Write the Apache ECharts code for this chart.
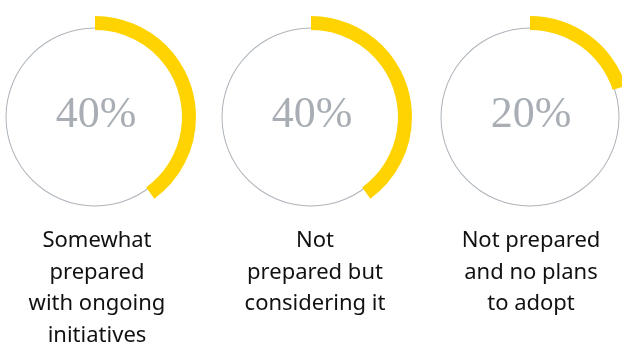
<!DOCTYPE html>
<html><head><meta charset="utf-8">
<script src="https://cdn.jsdelivr.net/npm/echarts@6/dist/echarts.min.js"></script>
<style>html,body{margin:0;padding:0;background:#fff}#c{width:622px;height:345px}</style>
</head><body><div id="c"></div>
<script>
var categories = ["Somewhat\nprepared\nwith ongoing\ninitiatives", "Not\nprepared but\nconsidering it", "Not prepared\nand no plans\nto adopt"];
var values = [40, 40, 20];
var valueLabels = ["40%", "40%", "20%"];

var centersX = [95, 311, 530];
var centerY = 117;
var labelX = [97, 315, 531];

var chart = echarts.init(document.getElementById('c'), null, {renderer: 'canvas'});
var series = [];
var graphics = [];
values.forEach(function (v, i) {
  series.push({
    type: 'pie', silent: true, z: 1,
    center: [centersX[i], centerY], radius: [88.5, 89.5],
    label: {show: false}, labelLine: {show: false},
    itemStyle: {color: '#aeb4ba'},
    emphasis: {disabled: true},
    data: [{value: 1}]
  });
  series.push({
    type: 'pie', silent: true, z: 2,
    center: [centersX[i], centerY], radius: [87, 101],
    startAngle: 90, clockwise: true,
    label: {show: false}, labelLine: {show: false},
    emphasis: {disabled: true},
    data: [
      {value: v, itemStyle: {color: '#ffd300'}},
      {value: 100 - v, itemStyle: {color: 'rgba(0,0,0,0)'}}
    ]
  });
  graphics.push({
    type: 'text', x: centersX[i] + 1, y: 115, z: 10,
    style: {text: valueLabels[i], fill: '#a8aeb4', font: '44px "Liberation Serif"', textAlign: 'center', textVerticalAlign: 'middle'}
  });
  graphics.push({
    type: 'text', x: labelX[i], y: 225, z: 10,
    style: {text: categories[i], fill: '#111', font: '22px "Noto Sans"', textAlign: 'center', textVerticalAlign: 'top', lineHeight: 31.5}
  });
});
chart.setOption({animation: false, series: series, graphic: graphics});
</script></body></html>
